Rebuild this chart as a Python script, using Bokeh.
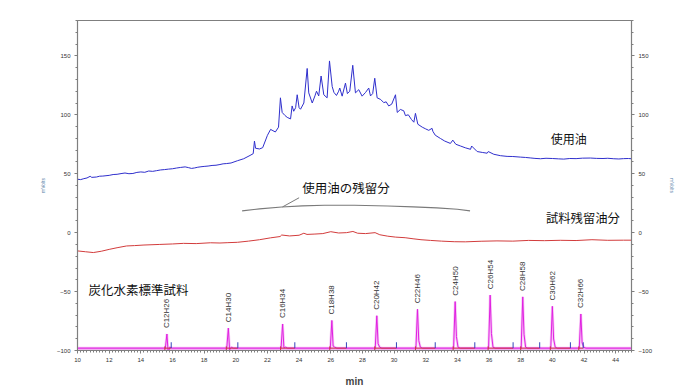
from math import pi
from bokeh.plotting import figure
from bokeh.models import LinearAxis, SingleIntervalTicker, Range1d
from bokeh.core.properties import value
from bokeh.embed import file_html
from bokeh.resources import INLINE

# ---- data ----
blue_t = [10.0, 10.2, 10.4, 10.6, 10.8, 10.9, 11.2, 11.4, 11.6, 11.8, 12.0, 12.25, 12.5, 12.75,
          13.0, 13.25, 13.5, 13.75, 14.0, 14.25, 14.5, 14.75, 15.0, 15.25, 15.5, 15.75, 16.0,
          16.25, 16.5, 16.8, 17.0, 17.2, 17.4, 17.6, 17.8, 18.0, 18.25, 18.5, 18.75, 19.0, 19.2,
          19.4, 19.7, 20.1, 20.5, 20.9, 21.1, 21.18,
          21.25, 21.5, 21.7, 22.0, 22.2, 22.35, 22.5, 22.7, 22.82, 22.93, 23.1, 23.25, 23.46,
          23.56, 23.66, 23.78, 23.88, 24.0, 24.09, 24.3, 24.51, 24.61, 24.83, 25.0, 25.1, 25.24,
          25.39, 25.56, 25.77, 25.92, 26.09, 26.2, 26.36, 26.5, 26.57, 26.72, 26.93, 27.05, 27.2,
          27.39, 27.56, 27.77, 27.98, 28.2, 28.4, 28.51, 28.65, 28.78, 28.93, 29.15, 29.35, 29.5,
          29.66, 29.85, 30.09, 30.2, 30.4, 30.61, 30.72, 30.9, 31.1, 31.25, 31.35, 31.5, 31.78,
          32.0, 32.19, 32.4, 32.45, 32.6, 32.93, 33.2, 33.56, 33.71, 33.9, 34.2, 34.5, 34.83,
          34.9, 35.25, 35.6, 35.88, 35.95, 36.3, 36.72, 37.14, 37.5, 37.98, 38.3, 38.6, 38.9,
          39.25, 39.6, 40.0, 40.4, 40.72, 41.1, 41.5, 41.9, 42.4, 42.8, 43.2, 43.5, 43.88, 44.2,
          44.5, 44.8, 45.0]
blue_v = [45.3, 45.0, 45.8, 46.4, 47.8, 46.9, 47.2, 47.9, 48.0, 48.3, 48.6, 49.3, 49.5, 50.1,
          50.6, 50.0, 50.2, 51.1, 51.5, 51.2, 52.3, 52.0, 52.6, 53.2, 53.5, 53.9, 54.2,
          54.8, 55.3, 55.8, 55.2, 54.5, 54.9, 55.5, 55.9, 56.2, 56.5, 57.0, 57.2, 57.8, 58.4,
          58.6, 59.1, 61.0, 62.7, 65.5, 67.0, 77.7,
          71.6, 71.0, 72.1, 82.6, 87.6, 86.5, 85.4, 89.5, 114.4, 102.0, 99.5, 97.8, 96.5,
          107.5, 103.0, 106.0, 117.0, 106.0, 104.7, 110.0, 139.3, 118.6, 110.0, 116.0, 120.0, 116.0,
          132.9, 117.0, 114.4, 145.7, 124.0, 119.0, 116.4, 120.0, 122.7, 115.8, 126.9, 118.0, 120.0,
          142.0, 118.6, 121.3, 115.8, 119.0, 122.7, 116.0, 118.0, 131.0, 114.4, 113.0, 110.3, 111.0,
          107.5, 109.0, 117.0, 102.0, 104.5, 103.4, 99.3, 100.0, 96.0, 93.7, 101.2, 92.0, 89.5,
          88.0, 86.8, 88.5, 86.0, 82.7, 79.9, 77.7, 75.7, 78.5, 75.0, 73.5, 72.0, 70.7,
          73.5, 68.8, 68.0, 67.4, 68.8, 66.5, 65.3, 64.7, 64.6, 64.1, 63.8, 63.4, 63.0,
          62.7, 63.1, 62.9, 62.6, 62.4, 62.9, 62.8, 63.2, 63.3, 63.0, 62.9, 63.1, 62.7, 62.5,
          62.8, 62.9, 62.7]

red_t = [10.0, 10.5, 11.0, 11.5, 12.0, 12.5, 13.1, 13.6, 14.2, 15.2, 16.0, 16.7, 17.5, 18.4,
         19.0, 19.5, 20.1, 20.8, 21.5, 22.2, 22.8, 22.9, 23.4, 24.0, 24.3, 24.5, 25.0, 25.5,
         26.0, 26.5, 27.0, 27.4, 27.7, 28.2, 28.8, 29.1, 29.6, 30.1, 30.7, 31.2, 31.7, 32.3,
         33.0, 33.8, 34.5, 35.5, 36.5, 37.5, 38.5, 39.5, 40.5, 41.5, 42.5, 43.5, 44.5, 45.0]
red_v = [-15.5, -16.2, -16.9, -15.8, -14.2, -12.8, -11.3, -11.0, -10.5, -10.0, -9.6, -9.1, -9.3, -8.6,
         -8.8, -8.5, -8.2, -7.2, -6.0, -4.4, -3.3, -2.0, -2.8, -2.2, -0.5, -1.5, -1.2, -0.8,
         0.8, -0.3, 0.0, 1.0, -0.5, -0.8, 0.0, -1.8, -3.0, -3.8, -4.3, -5.2, -6.0, -6.6,
         -7.2, -7.7, -7.8, -7.3, -7.0, -7.2, -6.6, -6.8, -6.5, -6.7, -6.0, -6.5, -6.4, -6.4]

arc_t = [20.4, 21.5, 22.9, 24.2, 25.6, 27.5, 29.6, 31.2, 32.7, 34.0, 34.8]
arc_v = [18.5, 20.2, 21.8, 22.7, 23.2, 23.3, 22.6, 21.9, 21.0, 19.8, 18.5]
pointer_t = [22.95, 24.0]
pointer_v = [21.8, 29.6]

peak_names = ["C12H26", "C14H30", "C16H34", "C18H38", "C20H42", "C22H46",
              "C24H50", "C26H54", "C28H58", "C30H62", "C32H66"]
peak_t = [15.67, 19.55, 22.98, 26.09, 28.93, 31.5, 33.88, 36.09, 38.15, 40.02, 41.82]
peak_v = [-86.0, -81.0, -77.5, -74.5, -70.5, -65.0, -58.5, -53.0, -54.5, -62.5, -69.0]
marker_t = [15.92, 20.13, 23.73, 26.99, 30.15, 32.6, 35.1, 37.52, 39.2, 41.14, 41.95]
baseline_v = -98.0

x_ticks_interval = 2
y_ticks_interval = 50

# ---- figure ----
p = figure(width=686, height=389, output_backend="svg", toolbar_location=None,
           x_range=Range1d(10, 45), y_range=Range1d(-100, 180),
           min_border_left=77, min_border_right=55, min_border_top=20, min_border_bottom=32)
p.background_fill_color = "white"
p.border_fill_color = "white"
p.outline_line_color = "#7f7f7f"
p.outline_line_width = 1.2
p.xgrid.visible = False
p.ygrid.visible = False

tick_font = "Liberation Sans"
p.xaxis.ticker = SingleIntervalTicker(interval=x_ticks_interval, num_minor_ticks=10)
p.yaxis.ticker = SingleIntervalTicker(interval=y_ticks_interval, num_minor_ticks=5)
for ax in [p.xaxis[0], p.yaxis[0]]:
    ax.axis_line_color = "#7f7f7f"
    ax.major_tick_line_color = "#7f7f7f"
    ax.minor_tick_line_color = "#7f7f7f"
    ax.major_tick_out = 3
    ax.major_tick_in = 0
    ax.minor_tick_out = 2
    ax.minor_tick_in = 0
    ax.major_label_text_font = tick_font
    ax.major_label_text_font_size = "6px"
    ax.major_label_text_color = "#333333"
p.xaxis.major_label_standoff = 4
p.yaxis.major_label_standoff = 4
p.xaxis.axis_label = "min"
p.xaxis.axis_label_text_font = tick_font
p.xaxis.axis_label_text_font_style = "bold"
p.xaxis.axis_label_text_font_size = "10px"
p.xaxis.axis_label_standoff = 11
p.yaxis.axis_label = "mVolts"
p.yaxis.axis_label_text_font = tick_font
p.yaxis.axis_label_text_font_style = "normal"
p.yaxis.axis_label_text_font_size = "5px"
p.yaxis.axis_label_text_color = "#5a7fa8"
p.yaxis.axis_label_standoff = 8

right = LinearAxis(ticker=SingleIntervalTicker(interval=y_ticks_interval, num_minor_ticks=5),
                   axis_label="mVolts")
right.axis_line_color = "#7f7f7f"
right.major_tick_line_color = "#7f7f7f"
right.minor_tick_line_color = "#7f7f7f"
right.major_tick_out = 3
right.major_tick_in = 0
right.minor_tick_out = 2
right.minor_tick_in = 0
right.major_label_text_font = tick_font
right.major_label_text_font_size = "6px"
right.major_label_text_color = "#333333"
right.major_label_standoff = 4
right.axis_label_text_font = tick_font
right.axis_label_text_font_style = "normal"
right.axis_label_text_font_size = "5px"
right.axis_label_text_color = "#5a7fa8"
right.axis_label_standoff = 14
p.add_layout(right, "right")

# ---- traces ----
p.line(blue_t, blue_v, line_color="#2f2fcc", line_width=1.0)
p.line(red_t, red_v, line_color="#d23c3c", line_width=1.0)
p.line(arc_t, arc_v, line_color="#7a7a7a", line_width=1.1)
p.line(pointer_t, pointer_v, line_color="#7a7a7a", line_width=1.0)

# standard sample chromatogram
p.line([10, 45], [baseline_v - 0.8, baseline_v - 0.8], line_color="#f3b6f3", line_width=3.5)
tr_x, tr_y = [10.0], [baseline_v]
for t, h in zip(peak_t, peak_v):
    tr_x += [t - 0.12, t - 0.02, t + 0.06, t + 0.16, t + 0.3]
    tr_y += [baseline_v, h, (h + baseline_v) / 2 - 10, baseline_v + 0.8, baseline_v]
tr_x.append(45.0)
tr_y.append(baseline_v)
p.line(tr_x, tr_y, line_color="#f090f0", line_width=2.6, line_alpha=0.5)
p.line(tr_x, tr_y, line_color="#e020e0", line_width=1.0)

start_t = [t - 0.15 for t in peak_t]
p.segment(x0=start_t, y0=[baseline_v] * len(start_t), x1=marker_t, y1=[baseline_v] * len(start_t),
          line_color="#cc3344", line_width=1.0)
p.segment(x0=start_t, y0=[-100] * len(start_t), x1=start_t, y1=[baseline_v + 1.5] * len(start_t),
          line_color="#cc3344", line_width=1.0)
p.segment(x0=marker_t, y0=[baseline_v] * len(marker_t), x1=marker_t, y1=[baseline_v + 5] * len(marker_t),
          line_color="#3344bb", line_width=1.0)

p.text(x=[t - 0.02 for t in peak_t], y=[v + 5 for v in peak_v], text=peak_names, angle=pi / 2,
       text_align="left", text_baseline="middle", text_font=value(tick_font),
       text_font_size="8px", text_color="#333333")

# ---- annotations ----
jp = value("Noto Sans CJK JP")
p.text(x=[39.9], y=[79.7], text=["使用油"], text_font=jp, text_font_size="12px",
       text_align="left", text_baseline="middle", text_color="#111111")
p.text(x=[39.6], y=[12.4], text=["試料残留油分"], text_font=jp, text_font_size="12.3px",
       text_align="left", text_baseline="middle", text_color="#111111")
p.text(x=[24.2], y=[38.2], text=["使用油の残留分"], text_font=jp, text_font_size="12.5px",
       text_align="left", text_baseline="middle", text_color="#111111")
p.text(x=[10.7], y=[-48.5], text=["炭化水素標準試料"], text_font=jp, text_font_size="12.5px",
       text_align="left", text_baseline="middle", text_color="#111111")

open("out.html", "w").write(file_html(p, INLINE))
